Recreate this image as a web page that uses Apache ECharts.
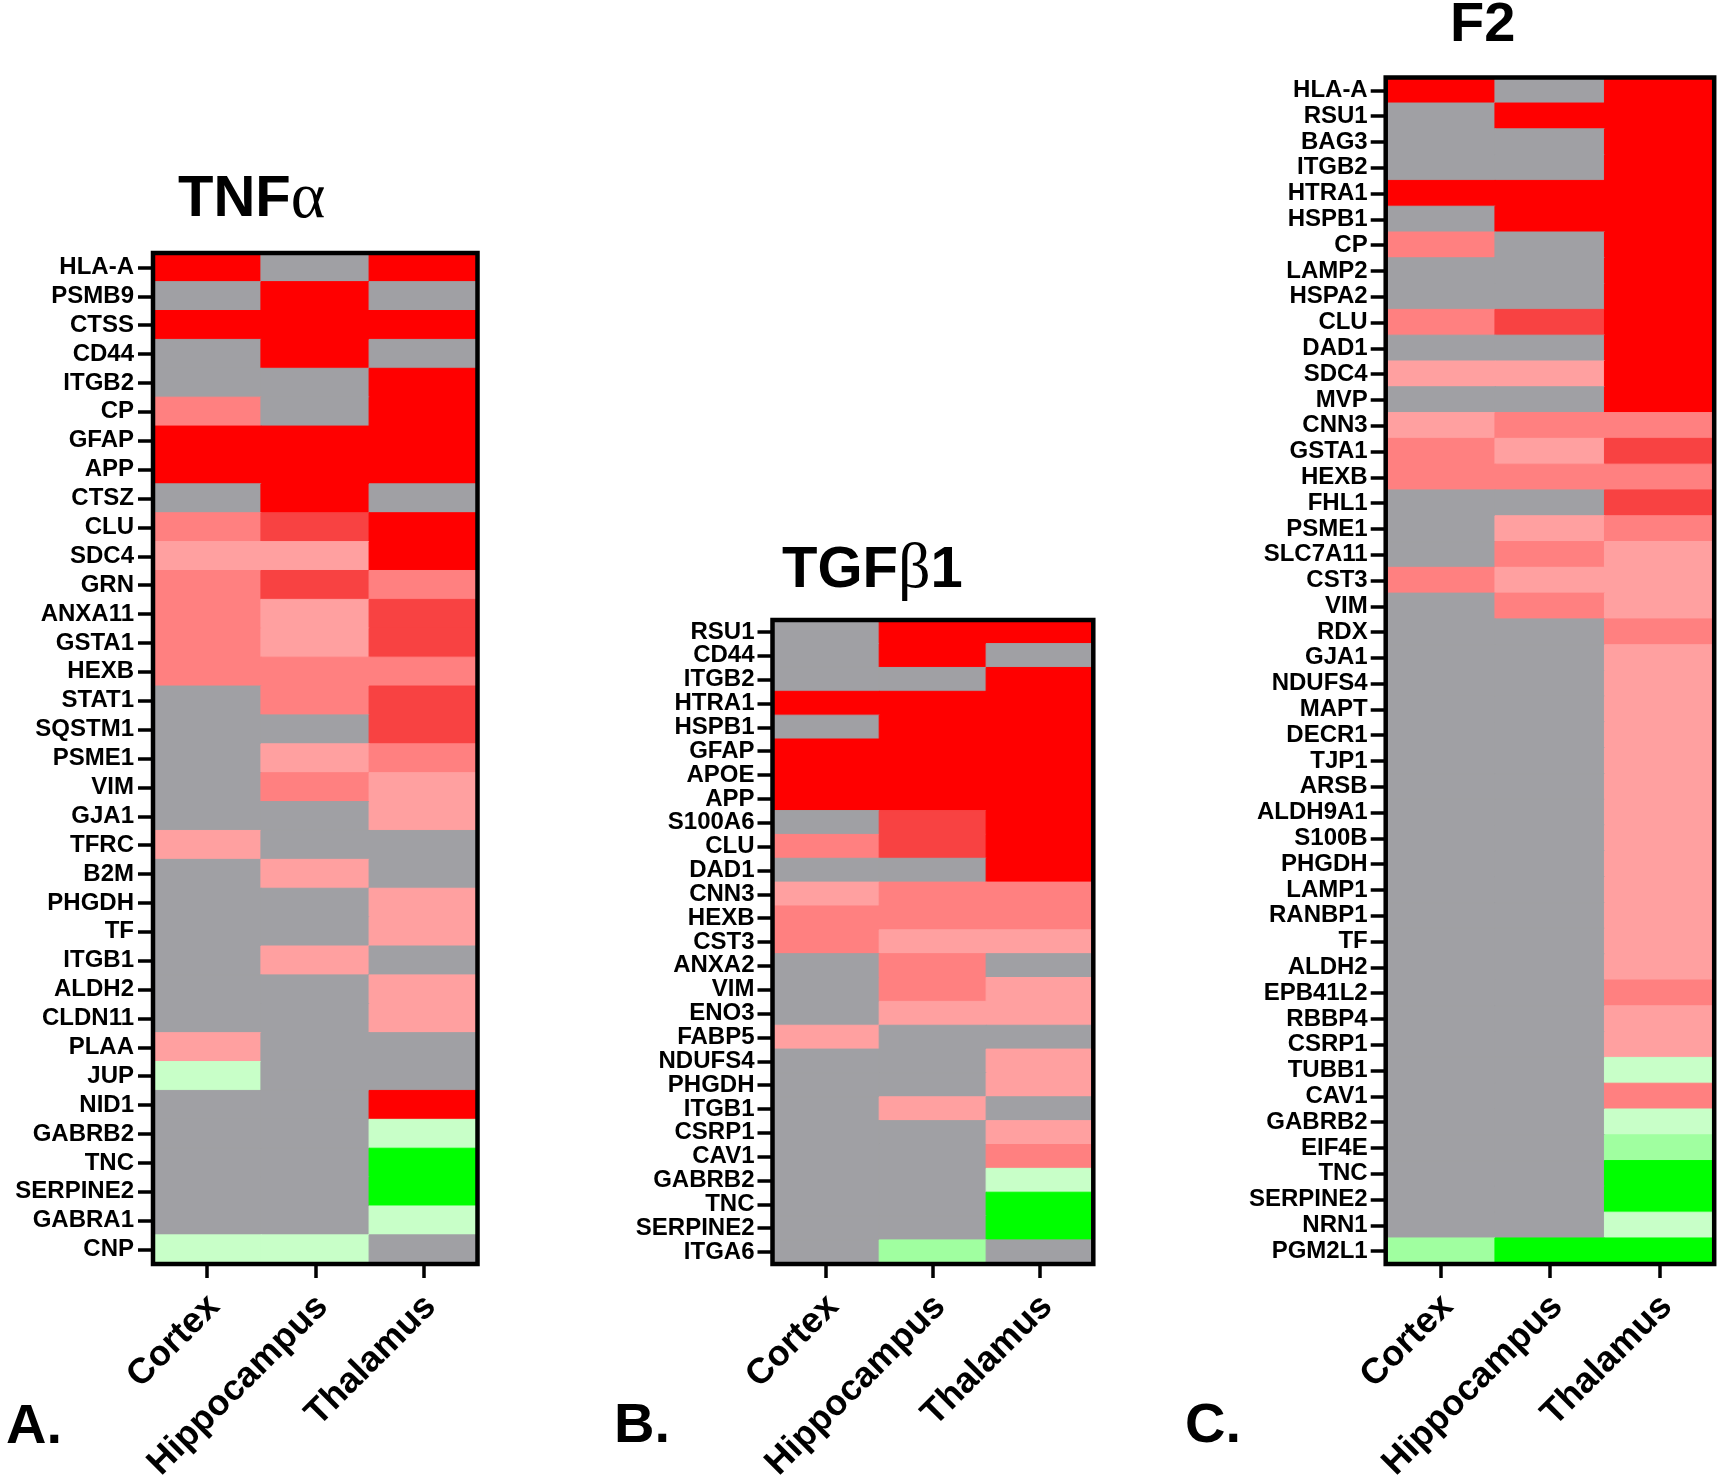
<!DOCTYPE html>
<html>
<head>
<meta charset="utf-8">
<script src="https://cdn.jsdelivr.net/npm/echarts@6/dist/echarts.min.js"></script>
<style>
html,body{margin:0;padding:0;background:#fff;}
#chart{width:1720px;height:1480px;}
</style>
</head>
<body>
<div id="chart"></div>
<script>
// Regions (x-axis categories)
const regions = ['Cortex', 'Hippocampus', 'Thalamus'];

// Level codes: 4 strong up, 3, 2, 1 weak up, 0 not changed (grey), -1 weak down, -2, -3 strong down
const levelColors = {
  '4': '#FF0000', '3': '#F84242', '2': '#FF8080', '1': '#FFA0A0',
  '0': '#A0A0A4', '-1': '#C8FFC8', '-2': '#A0FFA0', '-3': '#00FF00'
};

// Panel A: TNFα
const genesA = ['HLA-A','PSMB9','CTSS','CD44','ITGB2','CP','GFAP','APP','CTSZ','CLU','SDC4','GRN','ANXA11','GSTA1','HEXB','STAT1','SQSTM1','PSME1','VIM','GJA1','TFRC','B2M','PHGDH','TF','ITGB1','ALDH2','CLDN11','PLAA','JUP','NID1','GABRB2','TNC','SERPINE2','GABRA1','CNP'];
const valuesA = [
  [4,0,4],[0,4,0],[4,4,4],[0,4,0],[0,0,4],[2,0,4],[4,4,4],[4,4,4],[0,4,0],[2,3,4],
  [1,1,4],[2,3,2],[2,1,3],[2,1,3],[2,2,2],[0,2,3],[0,0,3],[0,1,2],[0,2,1],[0,0,1],
  [1,0,0],[0,1,0],[0,0,1],[0,0,1],[0,1,0],[0,0,1],[0,0,1],[1,0,0],[-1,0,0],[0,0,4],
  [0,0,-1],[0,0,-3],[0,0,-3],[0,0,-1],[-1,-1,0]
];

// Panel B: TGFβ1
const genesB = ['RSU1','CD44','ITGB2','HTRA1','HSPB1','GFAP','APOE','APP','S100A6','CLU','DAD1','CNN3','HEXB','CST3','ANXA2','VIM','ENO3','FABP5','NDUFS4','PHGDH','ITGB1','CSRP1','CAV1','GABRB2','TNC','SERPINE2','ITGA6'];
const valuesB = [
  [0,4,4],[0,4,0],[0,0,4],[4,4,4],[0,4,4],[4,4,4],[4,4,4],[4,4,4],[0,3,4],[2,3,4],
  [0,0,4],[1,2,2],[2,2,2],[2,1,1],[0,2,0],[0,2,1],[0,1,1],[1,0,0],[0,0,1],[0,0,1],
  [0,1,0],[0,0,1],[0,0,2],[0,0,-1],[0,0,-3],[0,0,-3],[0,-2,0]
];

// Panel C: F2
const genesC = ['HLA-A','RSU1','BAG3','ITGB2','HTRA1','HSPB1','CP','LAMP2','HSPA2','CLU','DAD1','SDC4','MVP','CNN3','GSTA1','HEXB','FHL1','PSME1','SLC7A11','CST3','VIM','RDX','GJA1','NDUFS4','MAPT','DECR1','TJP1','ARSB','ALDH9A1','S100B','PHGDH','LAMP1','RANBP1','TF','ALDH2','EPB41L2','RBBP4','CSRP1','TUBB1','CAV1','GABRB2','EIF4E','TNC','SERPINE2','NRN1','PGM2L1'];
const valuesC = [
  [4,0,4],[0,4,4],[0,0,4],[0,0,4],[4,4,4],[0,4,4],[2,0,4],[0,0,4],[0,0,4],[2,3,4],
  [0,0,4],[1,1,4],[0,0,4],[1,2,2],[2,1,3],[2,2,2],[0,0,3],[0,1,2],[0,2,1],[2,1,1],
  [0,2,1],[0,0,2],[0,0,1],[0,0,1],[0,0,1],[0,0,1],[0,0,1],[0,0,1],[0,0,1],[0,0,1],
  [0,0,1],[0,0,1],[0,0,1],[0,0,1],[0,0,1],[0,0,2],[0,0,1],[0,0,1],[0,0,-1],[0,0,2],
  [0,0,-1],[0,0,-2],[0,0,-3],[0,0,-3],[0,0,-1],[-2,-3,-3]
];

const panels = [
  {genes: genesA, values: valuesA, grid: {left: 153, top: 253, width: 324.5, height: 1011}, labelMargin: 19},
  {genes: genesB, values: valuesB, grid: {left: 772.5, top: 620, width: 320.8, height: 644}, labelMargin: 18},
  {genes: genesC, values: valuesC, grid: {left: 1385.7, top: 77.5, width: 328.5, height: 1186.5}, labelMargin: 18}
];

const FONT = '"Liberation Sans", Arial, Helvetica, sans-serif';
const SERIF = '"Liberation Serif", "Times New Roman", serif';

const grids = [], xAxes = [], yAxes = [], series = [];
panels.forEach((p, k) => {
  grids.push(Object.assign({
    show: true, z: 6, backgroundColor: 'rgba(0,0,0,0)',
    borderColor: '#000', borderWidth: 4.5,
    containLabel: false, outerBoundsMode: 'none'
  }, p.grid));
  xAxes.push({
    type: 'category', gridIndex: k, data: regions, position: 'bottom',
    axisLine: {show: false},
    axisTick: {show: true, alignWithLabel: true, length: 14, lineStyle: {color: '#000', width: 3.5}},
    axisLabel: {
      show: true, interval: 0, rotate: 45, margin: 30,
      align: 'right', verticalAlign: 'top', lineHeight: 20,
      fontFamily: FONT, fontWeight: 'bold', fontSize: 36, color: '#000'
    },
    splitLine: {show: false}, splitArea: {show: false}
  });
  yAxes.push({
    type: 'category', gridIndex: k, data: p.genes, inverse: true, position: 'left',
    axisLine: {show: false},
    axisTick: {show: true, alignWithLabel: true, length: 15, lineStyle: {color: '#000', width: 3.5}},
    axisLabel: {
      show: true, interval: 0, margin: p.labelMargin,
      fontFamily: FONT, fontWeight: 'bold', fontSize: 24, color: '#000'
    },
    splitLine: {show: false}, splitArea: {show: false}
  });
  const data = [];
  p.genes.forEach((g, i) => {
    p.values[i].forEach((v, j) => data.push({
      value: [j, i, v],
      itemStyle: {borderColor: levelColors[String(v)], borderWidth: 1}
    }));
  });
  series.push({
    type: 'heatmap', xAxisIndex: k, yAxisIndex: k, data: data,
    emphasis: {disabled: true},
    label: {show: false}
  });
});

const titleStyle = (size, gsize) => ({
  rich: {
    s: {fontFamily: FONT, fontWeight: 'bold', fontSize: size, lineHeight: size, color: '#000'},
    g: {fontFamily: SERIF, fontWeight: 'normal', fontSize: gsize, lineHeight: size, color: '#000'}
  }
});

const letterStyle = {fontFamily: FONT, fontWeight: 'bold', fontSize: 56, lineHeight: 56, color: '#000'};

const option = {
  animation: false,
  backgroundColor: '#fff',
  title: [
    {text: '{s|TNF}{g|α}', left: 178, top: 171, padding: 0, textStyle: titleStyle(58, 66)},
    {text: '{s|TGF}{g|β}{s|1}', left: 782, top: 541.5, padding: 0, textStyle: titleStyle(58, 64)},
    {text: '{s|F2}', left: 1450, top: -2.5, padding: 0, textStyle: titleStyle(56, 56)},
    {text: 'A.', left: 6, top: 1400, padding: 0, textStyle: letterStyle},
    {text: 'B.', left: 614, top: 1399, padding: 0, textStyle: letterStyle},
    {text: 'C.', left: 1185, top: 1399, padding: 0, textStyle: letterStyle}
  ],
  visualMap: {
    type: 'piecewise', show: false, dimension: 2, seriesIndex: [0, 1, 2],
    pieces: Object.keys(levelColors).map(k => ({value: Number(k), color: levelColors[k]}))
  },
  grid: grids,
  xAxis: xAxes,
  yAxis: yAxes,
  series: series
};

const chart = echarts.init(document.getElementById('chart'), null, {renderer: 'canvas'});
chart.setOption(option);
</script>
</body>
</html>
